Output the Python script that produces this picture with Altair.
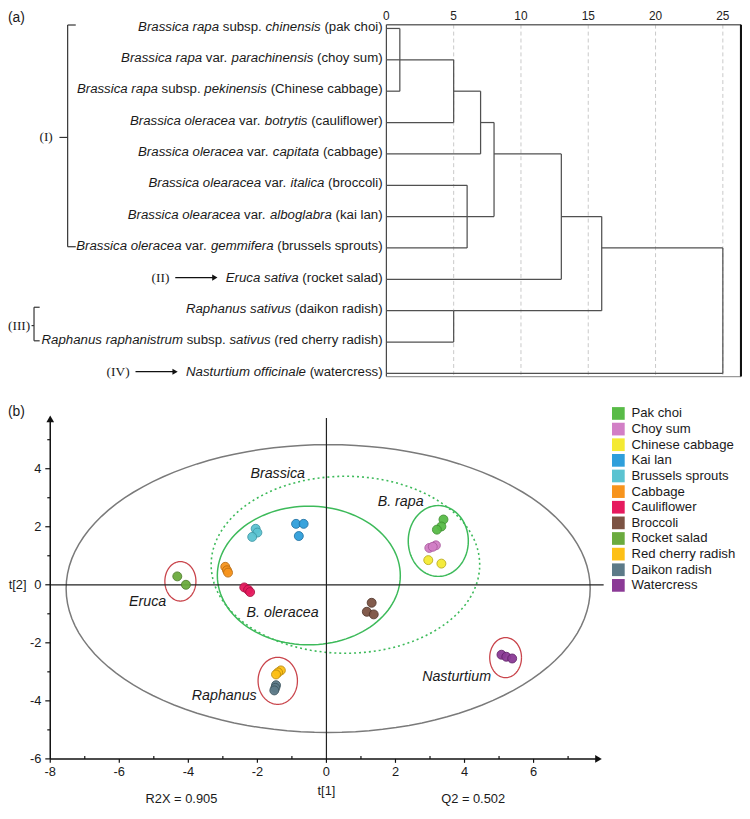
import altair as alt
import pandas as pd

# ======================= (a) dendrogram data =======================
leaf_labels = [
    [("Brassica rapa", True), (" subsp. ", False), ("chinensis", True), (" (pak choi)", False)],
    [("Brassica rapa", True), (" var. ", False), ("parachinensis", True), (" (choy sum)", False)],
    [("Brassica rapa", True), (" subsp. ", False), ("pekinensis", True), (" (Chinese cabbage)", False)],
    [("Brassica oleracea", True), (" var. ", False), ("botrytis", True), (" (cauliflower)", False)],
    [("Brassica oleracea", True), (" var. ", False), ("capitata", True), (" (cabbage)", False)],
    [("Brassica olearacea", True), (" var. ", False), ("italica", True), (" (broccoli)", False)],
    [("Brassica olearacea", True), (" var. ", False), ("alboglabra", True), (" (kai lan)", False)],
    [("Brassica oleracea", True), (" var. ", False), ("gemmifera", True), (" (brussels sprouts)", False)],
    [("Eruca sativa", True), (" (rocket salad)", False)],
    [("Raphanus sativus", True), (" (daikon radish)", False)],
    [("Raphanus raphanistrum", True), (" subsp. ", False), ("sativus", True), (" (red cherry radish)", False)],
    [("Nasturtium officinale", True), (" (watercress)", False)],
]
# linkage: children of each merge, merge distance, row where its branch is drawn
merge_children = [["L0", "L1", "L2"], ["M0", "L3"], ["M1", "L4"], ["L5", "L6", "L7"],
                  ["M2", "M3"], ["M4", "L8"], ["L9", "L10"], ["M5", "M6"], ["M7", "L11"]]
merge_heights = [1.0, 5.0, 7.0, 6.0, 8.0, 13.0, 5.0, 16.0, 25.0]
merge_rows = [1, 2, 3, 6, 4, 6, 9, 7, 9]
dist_ticks = [0, 5, 10, 15, 20, 25]
bracket_groups = [("(I)", 0, 7), ("(III)", 9, 10)]
arrow_groups = [("(II)", 8), ("(IV)", 11)]

# ======================= (b) PCA score plot data =======================
categories = ["Pak choi", "Choy sum", "Chinese cabbage", "Kai lan", "Brussels sprouts", "Cabbage",
              "Cauliflower", "Broccoli", "Rocket salad", "Red cherry radish", "Daikon radish", "Watercress"]
colors = ["#58bb47", "#d27fc6", "#f4ea33", "#2f9fdb", "#5bc3d1", "#f7941d",
          "#e61a5e", "#7c5343", "#6bab3e", "#fdc016", "#5c7a88", "#8b3a96"]
edge_colors = ["#3e8e2f", "#a8579c", "#b7a812", "#1c6fa0", "#3a95a3", "#b86a10",
               "#a80f40", "#4e3228", "#4a7a26", "#b8870a", "#3b525c", "#5f2068"]
pak_choi = [(3.39, 2.25), (3.33, 2.01), (3.20, 1.90)]
choy_sum = [(2.98, 1.27), (3.17, 1.36), (3.08, 1.31)]
chinese_cabbage = [(2.95, 0.85), (3.33, 0.73)]
kai_lan = [(-0.88, 2.10), (-0.66, 2.10), (-0.80, 1.68)]
brussels_sprouts = [(-2.05, 1.93), (-2.00, 1.80), (-2.15, 1.65)]
cabbage = [(-2.93, 0.62), (-2.88, 0.50), (-2.85, 0.42)]
cauliflower = [(-2.38, -0.09), (-2.27, -0.17), (-2.21, -0.25)]
broccoli = [(1.31, -0.62), (1.17, -0.93), (1.37, -1.02)]
rocket_salad = [(-4.32, 0.29), (-4.07, 0.00)]
red_cherry_radish = [(-1.32, -2.95), (-1.40, -3.02), (-1.46, -3.09)]
daikon_radish = [(-1.46, -3.46), (-1.48, -3.55), (-1.51, -3.64)]
watercress = [(5.07, -2.41), (5.21, -2.48), (5.38, -2.54)]
scores = [pak_choi, choy_sum, chinese_cabbage, kai_lan, brussels_sprouts, cabbage,
          cauliflower, broccoli, rocket_salad, red_cherry_radish, daikon_radish, watercress]

t1_ticks = [-8, -6, -4, -2, 0, 2, 4, 6]
t2_ticks = [-6, -4, -2, 0, 2, 4]
t1_minor = [-7, -5, -3, -1, 1, 3, 5, 7]
t2_minor = [-5, -3, -1, 1, 3, 5]

# ellipses: centre t1, centre t2, half-width, half-height
ell_names = ["Hotelling", "Brassica", "B. oleracea", "B. rapa", "Eruca", "Raphanus", "Nasturtium"]
ell_cx = [0.05, 0.55, -0.51, 3.24, -4.23, -1.41, 5.19]
ell_cy = [-0.13, 0.69, 0.32, 1.51, 0.12, -3.31, -2.51]
ell_rx = [7.59, 3.89, 2.65, 0.87, 0.45, 0.57, 0.46]
ell_ry = [4.96, 3.05, 2.39, 1.22, 0.68, 0.81, 0.69]

region_labels = ["Brassica", "B. rapa", "B. oleracea", "Eruca", "Raphanus", "Nasturtium"]
region_t1 = [-1.41, 2.15, -1.27, -5.18, -2.96, 3.77]
region_t2 = [3.81, 2.86, -0.97, -0.60, -3.83, -3.18]

# ======================= layout / styles =======================
W, H = 742, 803
FONT = "Liberation Sans"
SERIF = "Liberation Serif"
LINE = "#505050"
ELL_STYLE = {"Hotelling": ("#7a7a7a", None, 1.5), "Brassica": ("#3dba5a", [2, 3], 1.6),
             "B. oleracea": ("#3dba5a", None, 1.5), "B. rapa": ("#3dba5a", None, 1.5),
             "Eruca": ("#c9444b", None, 1.3), "Raphanus": ("#c9444b", None, 1.3),
             "Nasturtium": ("#c9444b", None, 1.3)}

HELV = {' ': 278, '(': 333, ')': 333, '.': 278, ',': 278, '-': 333,
        'A': 667, 'B': 667, 'C': 722, 'D': 722, 'E': 667, 'F': 611, 'G': 778, 'H': 722, 'I': 278,
        'J': 500, 'K': 667, 'L': 556, 'M': 833, 'N': 722, 'O': 778, 'P': 667, 'Q': 778, 'R': 722,
        'S': 667, 'T': 611, 'U': 722, 'V': 667, 'W': 944, 'X': 667, 'Y': 667, 'Z': 611,
        'a': 556, 'b': 556, 'c': 500, 'd': 556, 'e': 556, 'f': 278, 'g': 556, 'h': 556, 'i': 222,
        'j': 222, 'k': 500, 'l': 222, 'm': 833, 'n': 556, 'o': 556, 'p': 556, 'q': 556, 'r': 333,
        's': 500, 't': 278, 'u': 556, 'v': 500, 'w': 722, 'x': 500, 'y': 500, 'z': 500}


def tw(s, size):
    return sum(HELV.get(c, 556) for c in s) * size / 1000.0


def dxs():
    return alt.Scale(domain=[0, 26.35], range=[382.5, 741.0], nice=False, zero=False)


def dys():
    return alt.Scale(domain=[-0.12, 11.1], range=[12.5, 368.2], nice=False, zero=False)


def sxs():
    return alt.Scale(domain=[-8, 8], range=[42.7, 601.1], nice=False, zero=False)


def sys_():
    return alt.Scale(domain=[-6, 6], range=[754.7, 402.7], nice=False, zero=False)


def rules(rows, xs, ys, **mk):
    df = pd.DataFrame(rows, columns=["x", "x2", "y", "y2"])
    return alt.Chart(df).mark_rule(**mk).encode(
        x=alt.X("x:Q", scale=xs, axis=None), x2="x2:Q",
        y=alt.Y("y:Q", scale=ys, axis=None), y2="y2:Q")


def texts(rows, xs, ys, **mk):
    df = pd.DataFrame(rows, columns=["x", "y", "text"])
    return alt.Chart(df).mark_text(**mk).encode(
        x=alt.X("x:Q", scale=xs, axis=None), y=alt.Y("y:Q", scale=ys, axis=None), text="text:N")


def points(rows, xs, ys, **mk):
    df = pd.DataFrame(rows, columns=["x", "y"])
    return alt.Chart(df).mark_point(**mk).encode(
        x=alt.X("x:Q", scale=xs, axis=None), y=alt.Y("y:Q", scale=ys, axis=None))


layers = []

# ---------------- (a) ----------------
DMAX, RTOP, RBOT = 26.35, -0.12, 11.1
layers.append(rules([(t, t, RTOP, RBOT) for t in dist_ticks[1:]], dxs(), dys(),
                    color="#c8c8c8", strokeWidth=1, strokeDash=[4, 3]))
layers.append(rules([(0, DMAX, RTOP, RTOP)], dxs(), dys(), color="#6a6a6a", strokeWidth=1.5))
layers.append(rules([(0, DMAX, RBOT, RBOT)], dxs(), dys(), color="#9a9a9a", strokeWidth=1.2))
layers.append(rules([(0, 0, RTOP, RBOT)], dxs(), dys(), color="#444444", strokeWidth=1.2))
layers.append(rules([(DMAX, DMAX, RTOP, RBOT)], dxs(), dys(), color="#111111", strokeWidth=2.2))
layers.append(texts([(t, RTOP, str(t)) for t in dist_ticks], dxs(), dys(),
                    font=FONT, fontSize=12, color="#222222", baseline="bottom", dy=-2))


def node(n):
    k = int(n[1:])
    return (k, 0.0) if n[0] == "L" else (merge_rows[k], merge_heights[k])


dend = []
for k, ch in enumerate(merge_children):
    h = merge_heights[k]
    rws = []
    for c in ch:
        r, h0 = node(c)
        dend.append((h0, h, r, r))
        rws.append(r)
    dend.append((h, h, min(rws), max(rws)))
layers.append(rules(dend, dxs(), dys(), color=LINE, strokeWidth=1.25))

FS = 13.4
RIGHT = 378.7
TXT_DY = -0.055
ital, reg, label_start = [], [], []
for i, segs in enumerate(leaf_labels):
    full = "".join(s for s, _ in segs)
    pos = RIGHT - tw(full, FS)
    label_start.append(pos)
    for s, it in segs:
        lead = len(s) - len(s.lstrip(" "))
        (ital if it else reg).append((pos + tw(s[:lead], FS), i + TXT_DY, s.strip()))
        pos += tw(s, FS)
layers.append(texts(ital, None, dys(), font=FONT, fontSize=FS, fontStyle="italic",
                    align="left", baseline="middle", color="#1a1a1a"))
layers.append(texts(reg, None, dys(), font=FONT, fontSize=FS,
                    align="left", baseline="middle", color="#1a1a1a"))

# group brackets (I), (III)
br_rules, br_text_r, br_text_l = [], [], []
for name, r0, r1 in bracket_groups:
    top, bot = r0 - 0.11, r1 - 0.04
    mid = (top + bot) / 2 + 0.05
    if name == "(I)":
        xv, hook, tick0 = 60.3, 68.5, 52.0
        br_text_r.append((45.3, mid, name))
    else:
        xv, hook, tick0 = 26.3, 32.0, 23.8
        br_text_l.append((0.0, mid, name))
    br_rules += [(xv, xv, top, bot), (xv, hook, top, top), (xv, hook, bot, bot), (tick0, xv, mid, mid)]
layers.append(rules(br_rules, None, dys(), color="#333333", strokeWidth=1.2))
layers.append(texts(br_text_r, None, dys(), font=SERIF, fontSize=13.5, align="right",
                    baseline="middle", color="#1a1a1a"))
layers.append(texts(br_text_l, None, dys(), font=SERIF, fontSize=13.5, align="left",
                    baseline="middle", color="#1a1a1a"))

# arrows (II), (IV)
ar_rules, ar_heads, ar_text = [], [], []
for name, r in arrow_groups:
    st = label_start[r]
    ry = r + TXT_DY
    ar_rules.append((st - 51, st - 12, ry, ry))
    ar_heads.append((st - 11, ry))
    ar_text.append((st - 57, ry, name))
layers.append(rules(ar_rules, None, dys(), color="#111111", strokeWidth=1.3))
layers.append(points(ar_heads, None, dys(), shape="triangle-right", filled=True, size=38,
                     color="#111111", opacity=1))
layers.append(texts(ar_text, None, dys(), font=SERIF, fontSize=13.5, align="right",
                    baseline="middle", color="#1a1a1a"))

# panel letters
layers.append(alt.Chart(pd.DataFrame({"t": ["(a)"]})).mark_text(
    font=FONT, fontSize=14, align="left", baseline="middle", color="#1a1a1a").encode(
    x=alt.value(0), y=alt.value(6), text="t:N"))
layers.append(alt.Chart(pd.DataFrame({"t": ["(b)"]})).mark_text(
    font=FONT, fontSize=14, align="left", baseline="middle", color="#1a1a1a").encode(
    x=alt.value(0), y=alt.value(404), text="t:N"))

# ---------------- (b) ----------------
PXX, PXY = 34.9, 29.33
# ellipses
for n, cx, cy, rx, ry in zip(ell_names, ell_cx, ell_cy, ell_rx, ell_ry):
    col, dash, wdt = ELL_STYLE[n]
    mk = dict(color=col, strokeWidth=wdt)
    if dash:
        mk["strokeDash"] = dash
    layers.append(alt.Chart(alt.sequence(0, 361, 3, as_="a")).transform_calculate(
        ex=f"{cx} + {rx} * cos(datum.a * PI / 180)",
        ey=f"{cy} + {ry} * sin(datum.a * PI / 180)").mark_line(**mk).encode(
        x=alt.X("ex:Q", scale=sxs(), axis=None), y=alt.Y("ey:Q", scale=sys_(), axis=None),
        order=alt.Order("a:Q")))

# zero lines
layers.append(rules([(-8, 8.03, 0, 0), (0, 0, -6, 5.75)], sxs(), sys_(), color="#222222", strokeWidth=1.2))
# axes
layers.append(rules([(-8, -8, -6, 5.72), (-8, 7.86, -6, -6)], sxs(), sys_(), color="#111111", strokeWidth=1.5))
layers.append(points([(-8, 5.72)], sxs(), sys_(), shape="triangle-up", filled=True, size=60,
                     color="#111111", opacity=1))
layers.append(points([(7.88, -6)], sxs(), sys_(), shape="triangle-right", filled=True, size=60,
                     color="#111111", opacity=1))
ticks = [(-8, -8 - 5 / PXX, v, v) for v in t2_ticks] + [(-8, -8 - 3 / PXX, v, v) for v in t2_minor] + \
        [(v, v, -6, -6 - 4 / PXY) for v in t1_ticks] + [(v, v, -6, -6 + 3 / PXY) for v in t1_minor]
layers.append(rules(ticks, sxs(), sys_(), color="#111111", strokeWidth=1.2))
layers.append(texts([(-8, v, str(v)) for v in t2_ticks], sxs(), sys_(), font=FONT, fontSize=13,
                    align="right", baseline="middle", dx=-9, color="#1a1a1a"))
layers.append(texts([(v, -6, str(v)) for v in t1_ticks], sxs(), sys_(), font=FONT, fontSize=13,
                    align="center", baseline="middle", dy=13, color="#1a1a1a"))
layers.append(texts([(-8, 0, "t[2]")], sxs(), sys_(), font=FONT, fontSize=13,
                    align="left", baseline="middle", dx=-42, color="#1a1a1a"))
layers.append(texts([(0, -6, "t[1]")], sxs(), sys_(), font=FONT, fontSize=13,
                    align="center", baseline="middle", dy=33, color="#1a1a1a"))
layers.append(texts([(-4.2, -6, "R2X = 0.905"), (4.25, -6, "Q2 = 0.502")], sxs(), sys_(), font=FONT,
                    fontSize=13, align="center", baseline="bottom", dy=48, color="#1a1a1a"))

# region labels
layers.append(texts(list(zip(region_t1, region_t2, region_labels)), sxs(), sys_(), font=FONT,
                    fontSize=14.4, fontStyle="italic", align="center", baseline="middle", color="#1a1a1a"))

# score points
pts = []
for cat, arr in zip(categories, scores):
    for t1, t2 in arr:
        pts.append({"cat": cat, "t1": t1, "t2": t2})
layers.append(alt.Chart(pd.DataFrame(pts)).mark_point(
    shape="circle", filled=True, size=82, strokeWidth=0.9, opacity=0.95).encode(
    x=alt.X("t1:Q", scale=sxs(), axis=None), y=alt.Y("t2:Q", scale=sys_(), axis=None),
    fill=alt.Fill("cat:N", scale=alt.Scale(domain=categories, range=colors), legend=None),
    stroke=alt.Stroke("cat:N", scale=alt.Scale(domain=categories, range=edge_colors), legend=None)))

# legend
leg = pd.DataFrame({"cat": categories, "i": list(range(len(categories)))})
leg_y = alt.Scale(domain=[0, 11], range=[405.5, 579.3], nice=False, zero=False)
layers.append(alt.Chart(leg).mark_square(size=165, opacity=1).encode(
    x=alt.value(617), y=alt.Y("i:Q", scale=leg_y, axis=None),
    color=alt.Color("cat:N", scale=alt.Scale(domain=categories, range=colors), legend=None)))
layers.append(alt.Chart(leg).mark_text(font=FONT, fontSize=13.3, align="left", baseline="middle",
                                       color="#1a1a1a").encode(
    x=alt.value(630.3), y=alt.Y("i:Q", scale=alt.Scale(domain=[0, 11], range=[405.5, 579.3],
                                                        nice=False, zero=False), axis=None),
    text="cat:N"))

chart = alt.layer(*layers).resolve_scale(
    x="independent", y="independent", color="independent", fill="independent", stroke="independent"
).properties(
    width=W, height=H, padding=0, autosize=alt.AutoSizeParams(type="none")
).configure_view(stroke=None)

chart.save("out.html", embed_options={"renderer": "svg", "actions": False})
